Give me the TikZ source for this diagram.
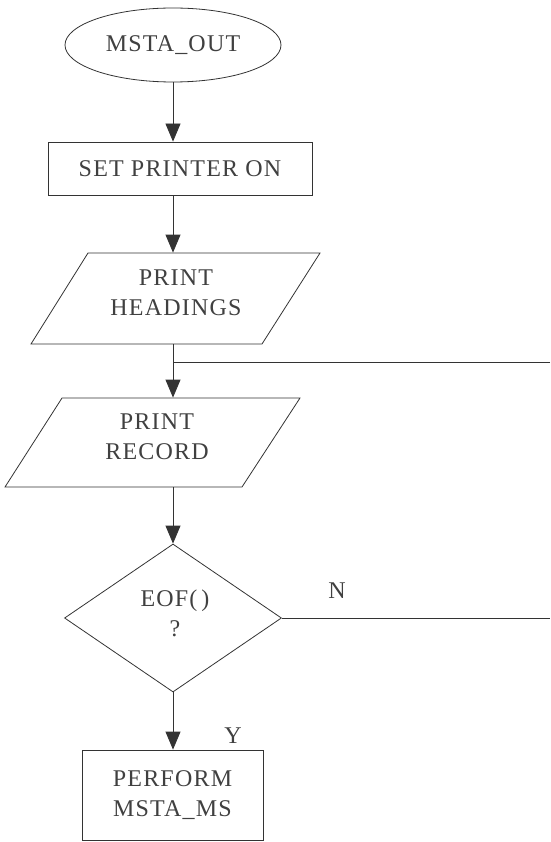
\documentclass[tikz,border=0pt]{standalone}
\usepackage{fontspec}
\setmainfont{Liberation Serif}[LetterSpace=5]
\usetikzlibrary{arrows.meta,shapes.geometric}
\begin{document}
\begin{tikzpicture}[x=1pt,y=-1pt,
  line width=0.8pt,
  every node/.style={text=black!75, font=\fontsize{24}{30}\selectfont, align=center, inner sep=0pt},
  flow/.style={draw=black!80, -{Triangle[width=15pt,length=18pt]}},
  link/.style={draw=black!80},
  boxnode/.style={draw=black!80, rectangle},
  txt/.style={draw=none}]
\useasboundingbox (0,0) rectangle (550,842);

% start terminal
\node[ellipse, draw=black!80, minimum width=216pt, minimum height=74pt] (start) at (173,45) {MSTA\_OUT};

% printer on
\node[boxnode, minimum width=264pt, minimum height=53pt] (spo) at (180,168.5) {SET PRINTER ON};

% print headings (input/output parallelogram)
\draw[link] (88,253) -- (320,253) -- (262,344) -- (31,344) -- cycle;
\node[txt, minimum width=10pt, minimum height=91pt] (ph) at (173,298.5) {};
\node[txt] (phtext) at (176,293) {PRINT\\HEADINGS};

% loop return junction
\coordinate (j) at (173,362);
\coordinate (loopin) at (550,362);

% print record (input/output parallelogram)
\draw[link] (62,398) -- (300,398) -- (242,487) -- (5,487) -- cycle;
\node[txt, minimum width=10pt, minimum height=89pt] (pr) at (173,442.5) {};
\node[txt] (prtext) at (157,437) {PRINT\\RECORD};

% end-of-file decision
\node[diamond, draw=black!80, aspect=1.466, minimum width=217pt, minimum height=148pt] (dec) at (173,618) {};
\node[txt] (dectext) at (175,613) {EOF(\,)\\?};
\coordinate (nout) at (550,618);

% perform
\node[boxnode, minimum width=181pt, minimum height=90pt] (perf) at (172.5,795) {PERFORM\\MSTA\_MS};

% connectors
\draw[flow] (start.south) -- (start.south |- spo.north);
\draw[flow] (spo.south -| start.south) -- (ph.north);
\draw[link] (ph.south) -- (j);
\draw[link] (loopin) -- (j);
\draw[flow] (j) -- (pr.north);
\draw[flow] (pr.south) -- (dec.north);
\draw[link] (dec.east) -- (nout);
\draw[flow] (dec.south) -- (dec.south |- perf.north);

% branch labels
\node (nlab) at (337,591) {N};
\node (ylab) at (233,736) {Y};
\end{tikzpicture}
\end{document}
